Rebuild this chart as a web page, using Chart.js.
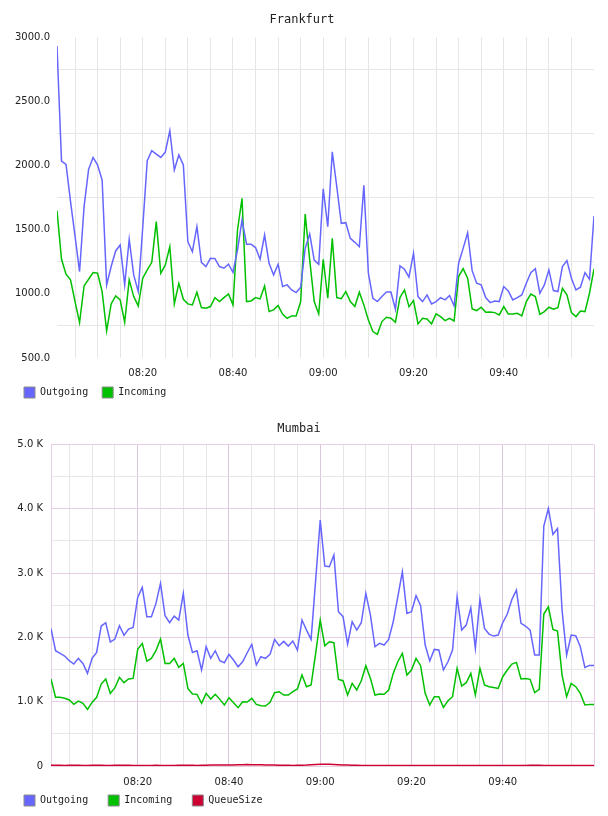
<!DOCTYPE html>
<html>
<head>
<meta charset="utf-8">
<title>Frankfurt / Mumbai</title>
<script src="https://cdn.jsdelivr.net/npm/chart.js@4.4.1/dist/chart.umd.min.js"></script>
<style>
  html, body { margin: 0; padding: 0; background: #fff; }
  #wrap { position: relative; width: 608px; height: 816px; overflow: hidden; }
  canvas { position: absolute; left: 0; }
  #fra { top: 0; }
  #mum { top: 408px; }
</style>
</head>
<body>
<div id="wrap">
  <canvas id="fra" width="608" height="415"></canvas>
  <canvas id="mum" width="608" height="423"></canvas>
</div>
<script>
// one sample per minute, first one at 08:01 (minutes counted from 08:00)
const firstMinute = 1;
const lastMinute = 120;

// x grid every 5 minutes, labels every 20
const gridMinutes = [5, 10, 15, 20, 25, 30, 35, 40, 45, 50, 55, 60, 65, 70, 75, 80, 85, 90, 95, 100, 105, 110, 115];
const labelMinutes = [20, 40, 60, 80, 100];
const timeLabels = ['08:20', '08:40', '09:00', '09:20', '09:40'];

const fraYTicks = [500, 1000, 1500, 2000, 2500, 3000];
const fraYLabels = ['500.0', '1000.0', '1500.0', '2000.0', '2500.0', '3000.0'];
const mumYTicks = [0, 1000, 2000, 3000, 4000, 5000];
const mumYLabels = ['0', '1.0 K', '2.0 K', '3.0 K', '4.0 K', '5.0 K'];

// Frankfurt
const fraOutgoing = [
  2932, 2036, 2010, 1720, 1450, 1174, 1680, 1971, 2064, 2005,
  1888, 1070, 1213, 1335, 1381, 1070, 1425, 1148, 1018, 1520,
  2038, 2116, 2090, 2064, 2106, 2272, 1966, 2083, 2005, 1407,
  1329, 1524, 1246, 1213, 1277, 1275, 1213, 1200, 1231, 1168,
  1342, 1576, 1387, 1387, 1361, 1270, 1459, 1238, 1148, 1231,
  1057, 1070, 1031, 1010, 1052, 1355, 1467, 1264, 1231, 1820,
  1524, 2108, 1836, 1550, 1555, 1433, 1402, 1368, 1846, 1161,
  966, 940, 979, 1015, 1015, 880, 1218, 1192, 1130, 1317,
  979, 940, 992, 922, 940, 971, 953, 987, 906, 1239,
  1355, 1477, 1181, 1083, 1070, 971, 932, 945, 940, 1057,
  1023, 953, 971, 992, 1083, 1166, 1197, 1005, 1070, 1187,
  1026, 1018, 1213, 1259, 1122, 1031, 1052, 1166, 1114, 1607
];
const fraIncoming = [
  1649, 1270, 1153, 1109, 940, 776, 1062, 1114, 1166, 1161,
  1018, 711, 922, 984, 953, 779, 1109, 979, 906, 1122,
  1187, 1246, 1563, 1161, 1226, 1368, 922, 1083, 958, 922,
  914, 1013, 893, 888, 901, 971, 940, 971, 999, 914,
  1498, 1745, 940, 945, 971, 961, 1062, 862, 875, 909,
  841, 810, 828, 828, 940, 1623, 1264, 940, 844, 1270,
  966, 1433, 971, 963, 1018, 940, 901, 1013, 914, 797,
  706, 685, 784, 818, 810, 779, 971, 1031, 901, 948,
  766, 810, 805, 766, 844, 823, 792, 810, 789, 1135,
  1197, 1122, 883, 870, 896, 857, 859, 854, 836, 901,
  844, 844, 849, 828, 940, 999, 979, 841, 862, 896,
  880, 893, 1044, 992, 854, 823, 867, 862, 1005, 1195
];

// Mumbai
const mumOutgoing = [
  2139, 1792, 1751, 1709, 1637, 1585, 1673, 1595, 1440, 1673,
  1766, 2176, 2227, 1927, 1974, 2181, 2031, 2129, 2155, 2621,
  2776, 2321, 2321, 2528, 2839, 2336, 2227, 2331, 2269, 2683,
  2036, 1766, 1792, 1492, 1854, 1673, 1792, 1637, 1606, 1735,
  1647, 1544, 1621, 1761, 1891, 1570, 1699, 1673, 1735, 1968,
  1870, 1937, 1865, 1943, 1803, 2269, 2113, 1968, 2890, 3823,
  3108, 3098, 3279, 2398, 2321, 1896, 2243, 2113, 2227, 2683,
  2347, 1854, 1906, 1880, 1968, 2243, 2631, 3020, 2372, 2398,
  2647, 2492, 1880, 1632, 1813, 1803, 1492, 1621, 1803, 2631,
  2113, 2191, 2461, 1829, 2590, 2139, 2051, 2020, 2036, 2227,
  2362, 2590, 2735, 2217, 2176, 2113, 1725, 1725, 3730, 4004,
  3600, 3693, 2424, 1725, 2036, 2025, 1854, 1533, 1564, 1564
];
const mumIncoming = [
  1352, 1067, 1067, 1052, 1026, 958, 1010, 974, 881, 989,
  1067, 1274, 1352, 1129, 1217, 1378, 1295, 1352, 1362, 1813,
  1906, 1632, 1673, 1792, 1974, 1595, 1595, 1673, 1533, 1595,
  1207, 1119, 1114, 974, 1129, 1041, 1114, 1036, 948, 1062,
  984, 907, 1000, 995, 1052, 958, 938, 932, 989, 1140,
  1155, 1103, 1103, 1155, 1197, 1414, 1233, 1259, 1750, 2269,
  1870, 1932, 1917, 1347, 1326, 1103, 1285, 1181, 1326, 1559,
  1362, 1103, 1119, 1114, 1181, 1440, 1621, 1751, 1414, 1492,
  1673, 1559, 1129, 948, 1077, 1077, 912, 1015, 1077, 1518,
  1243, 1295, 1440, 1103, 1518, 1259, 1233, 1222, 1207, 1388,
  1492, 1585, 1611, 1352, 1362, 1347, 1140, 1191, 2362, 2476,
  2124, 2098, 1414, 1077, 1285, 1233, 1129, 948, 958, 958
];
const mumQueueSize = [
  10, 12, 10, 9, 11, 12, 10, 8, 9, 10,
  11, 10, 9, 8, 10, 11, 12, 10, 9, 8,
  7, 8, 9, 10, 8, 7, 8, 9, 10, 11,
  12, 10, 9, 10, 12, 14, 15, 16, 15, 14,
  16, 18, 20, 22, 20, 18, 19, 17, 15, 14,
  12, 11, 10, 9, 10, 12, 14, 18, 22, 26,
  28, 26, 24, 20, 17, 14, 12, 10, 9, 8,
  8, 7, 8, 9, 8, 7, 6, 7, 8, 7,
  6, 7, 8, 6, 7, 8, 7, 6, 7, 8,
  9, 8, 7, 8, 9, 8, 7, 6, 7, 8,
  7, 6, 7, 8, 9, 10, 12, 10, 9, 8,
  7, 8, 9, 8, 7, 6, 7, 8, 7, 8
];

const BLUE = '#6666ff';
const GREEN = '#00c000';
const RED = '#cc0033';
const GRID = '#e6e6e6';
const PINK = '#e6cfe6';
const PURPLE = '#dcc6dc';
const CLEAR = 'rgba(0,0,0,0)';

const tickFont = { family: 'DejaVu Sans', size: 10 };
const monoFont = { family: 'DejaVu Sans Mono', size: 10 };

// x tick labels get clipped to the axis box, so the axis is kept tall
// and the legend is pulled up over the spare space afterwards
const legendLift = {
  id: 'legendLift',
  afterLayout(chart, args, opts) {
    const lg = chart.legend;
    if (!lg || !opts.by) return;
    lg.top -= opts.by;
    lg.bottom -= opts.by;
  }
};

function toPoints(values) {
  return values.map((v, i) => ({ x: firstMinute + i, y: v }));
}

function line(label, values, color) {
  return {
    label: label,
    data: toPoints(values),
    borderColor: color,
    backgroundColor: color,
    borderWidth: 1.5,
    pointRadius: 0,
    tension: 0,
    fill: false
  };
}

function timeLabel(v) {
  const k = labelMinutes.indexOf(v);
  return k >= 0 ? timeLabels[k] : '';
}

function legendOptions(padding) {
  return {
    position: 'bottom',
    align: 'start',
    labels: {
      boxWidth: 11,
      boxHeight: 11,
      padding: padding,
      font: monoFont,
      color: '#222',
      generateLabels: chart => Chart.defaults.plugins.legend.labels.generateLabels(chart)
        .map(item => Object.assign(item, { strokeStyle: '#8a8a8a', lineWidth: 1 }))
    }
  };
}

function titleOptions(text, top, bottom) {
  return {
    display: true,
    text: text,
    color: '#222',
    font: { family: 'DejaVu Sans Mono', size: 12, weight: 'normal' },
    padding: { top: top, bottom: bottom }
  };
}

// Frankfurt chart
new Chart(document.getElementById('fra'), {
  type: 'line',
  data: {
    datasets: [
      line('Outgoing', fraOutgoing, BLUE),
      line('Incoming', fraIncoming, GREEN)
    ]
  },
  plugins: [legendLift],
  options: {
    responsive: false,
    animation: false,
    layout: { padding: { left: 10, right: 14, top: 0, bottom: 0 } },
    plugins: {
      title: titleOptions('Frankfurt', 13, 10),
      legend: legendOptions(14),
      legendLift: { by: 7 },
      tooltip: { enabled: false }
    },
    scales: {
      x: {
        type: 'linear',
        min: firstMinute,
        max: lastMinute,
        afterBuildTicks: axis => { axis.ticks = gridMinutes.map(v => ({ value: v })); },
        afterFit: axis => { axis.height = 22; },
        grid: { color: GRID, drawTicks: false },
        border: { display: false },
        ticks: { autoSkip: false, maxRotation: 0, padding: 9, font: tickFont, color: '#222', callback: timeLabel }
      },
      y: {
        min: 500,
        max: 3000,
        afterFit: axis => { axis.width = 47; },
        grid: { drawTicks: false, color: ctx => fraYTicks.includes(ctx.tick.value) ? CLEAR : GRID },
        border: { display: false },
        ticks: {
          stepSize: 250,
          autoSkip: false,
          padding: 7,
          font: tickFont,
          color: '#222',
          callback: v => {
            const k = fraYTicks.indexOf(v);
            return k >= 0 ? fraYLabels[k] : '';
          }
        }
      }
    }
  }
});

// Mumbai chart
new Chart(document.getElementById('mum'), {
  type: 'line',
  data: {
    datasets: [
      line('Outgoing', mumOutgoing, BLUE),
      line('Incoming', mumIncoming, GREEN),
      line('QueueSize', mumQueueSize, RED)
    ]
  },
  plugins: [legendLift],
  options: {
    responsive: false,
    animation: false,
    layout: { padding: { left: 4, right: 14, top: 0, bottom: 0 } },
    plugins: {
      title: titleOptions('Mumbai', 14, 8),
      legend: legendOptions(20),
      legendLift: { by: 15 },
      tooltip: { enabled: false }
    },
    scales: {
      x: {
        type: 'linear',
        min: firstMinute,
        max: lastMinute,
        afterBuildTicks: axis => {
          axis.ticks = gridMinutes.concat([lastMinute]).map(v => ({ value: v }));
        },
        afterFit: axis => { axis.height = 24; },
        grid: {
          drawTicks: false,
          color: ctx => {
            const v = ctx.tick.value;
            if (v === lastMinute) return PINK;
            return labelMinutes.includes(v) ? PURPLE : GRID;
          }
        },
        border: { color: PINK },
        ticks: { autoSkip: false, maxRotation: 0, padding: 10, font: tickFont, color: '#222', callback: timeLabel }
      },
      y: {
        min: 0,
        max: 5000,
        afterFit: axis => { axis.width = 47; },
        grid: { drawTicks: false, color: ctx => mumYTicks.includes(ctx.tick.value) ? PINK : GRID },
        border: { color: PINK },
        ticks: {
          stepSize: 500,
          autoSkip: false,
          padding: 8,
          font: tickFont,
          color: '#222',
          callback: v => {
            const k = mumYTicks.indexOf(v);
            return k >= 0 ? mumYLabels[k] : '';
          }
        }
      }
    }
  }
});
</script>
</body>
</html>
